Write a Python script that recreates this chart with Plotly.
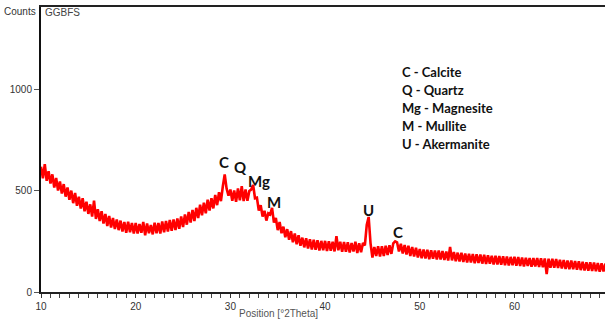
import numpy as np
import plotly.graph_objects as go

# 2theta positions (deg), step 0.2 from 10.0 to 69.6
two_theta = [round(10 + 0.2 * i, 1) for i in range(299)]

counts = [
    618, 560, 630, 548, 595, 535, 580, 515, 562, 500,
    545, 485, 532, 470, 515, 455, 500, 438, 488, 425,
    470, 412, 462, 398, 445, 385, 432, 372, 450, 360,
    408, 350, 398, 338, 385, 325, 375, 318, 365, 310,
    358, 305, 352, 298, 345, 292, 346, 295, 340, 288,
    340, 288, 335, 292, 345, 280, 338, 290, 330, 284,
    342, 290, 340, 288, 348, 294, 350, 298, 355, 302,
    358, 305, 362, 312, 372, 320, 382, 332, 395, 342,
    405, 350, 415, 365, 430, 378, 440, 388, 455, 402,
    462, 412, 478, 428, 492, 448, 520, 580, 510, 475,
    505, 450, 500, 445, 510, 452, 522, 448, 505, 450,
    498, 505, 528, 462, 465, 402, 428, 372, 400, 352,
    388, 382, 415, 342, 365, 305, 345, 290, 322, 270,
    310, 258, 300, 245, 288, 235, 280, 228, 268, 220,
    265, 215, 260, 210, 258, 208, 255, 205, 252, 206,
    252, 202, 250, 204, 248, 200, 275, 206, 248, 198,
    246, 198, 245, 195, 242, 200, 248, 192, 240, 196,
    242, 230, 330, 370, 240, 170, 222, 178, 225, 175,
    225, 178, 228, 182, 230, 188, 240, 250, 245, 200,
    238, 190, 232, 185, 228, 178, 222, 175, 218, 170,
    212, 166, 210, 165, 208, 162, 206, 164, 205, 160,
    204, 160, 202, 158, 200, 155, 222, 156, 197, 152,
    194, 150, 193, 148, 190, 146, 189, 145, 187, 142,
    186, 143, 185, 140, 183, 138, 181, 140, 179, 136,
    179, 136, 177, 134, 176, 132, 175, 131, 173, 132,
    174, 130, 172, 128, 170, 126, 169, 128, 167, 125,
    168, 126, 167, 124, 166, 122, 165, 88, 164, 120,
    164, 120, 162, 118, 159, 116, 157, 114, 155, 112,
    155, 112, 153, 110, 151, 108, 149, 106, 147, 105,
    146, 104, 145, 102, 143, 100, 141, 101, 140,
]

peak_labels = ["C", "Q", "Mg", "M", "U", "C"]
peak_x = [29.35, 31.1, 33.0, 34.6, 44.6, 47.7]
peak_y = [641, 616, 547, 444, 404, 296]

legend_lines = ["C - Calcite", "Q - Quartz", "Mg - Magnesite", "M - Mullite", "U - Akermanite"]

x_ticks = [10, 20, 30, 40, 50, 60]
y_ticks = [0, 500, 1000]

W, H = 605, 320
L, R, T, B = 41, 0, 7, 28
pw, ph = W - L - R, H - T - B

def px(xp):
    return (xp - L) / pw

def py(yp):
    return (H - B - yp) / ph

fig = go.Figure()
fig.add_trace(go.Scatter(x=two_theta, y=counts, mode="lines",
                         line=dict(color="#ff0000", width=2.6, simplify=False),
                         hoverinfo="skip"))

for lab, xv, yv in zip(peak_labels, peak_x, peak_y):
    fig.add_annotation(x=xv, y=yv, text="<b>%s</b>" % lab, showarrow=False,
                       font=dict(family="Lato", size=15, color="#111"),
                       xanchor="center", yanchor="middle")

for i, t in enumerate(legend_lines):
    fig.add_annotation(xref="paper", yref="paper", x=px(400), y=py(72 + 18 * i),
                       text="<b>%s</b>" % t, showarrow=False, xanchor="left", yanchor="middle",
                       font=dict(family="Lato", size=13, color="#111"))

fig.add_annotation(xref="paper", yref="paper", x=px(38), y=py(11), text="Counts",
                   showarrow=False, xanchor="right", yanchor="middle",
                   font=dict(family="Liberation Sans", size=10, color="#333"))
fig.add_annotation(xref="paper", yref="paper", x=px(43), y=py(13), text="GGBFS",
                   showarrow=False, xanchor="left", yanchor="middle",
                   font=dict(family="Liberation Sans", size=10, color="#444"))
fig.add_annotation(xref="paper", yref="paper", x=px(278), y=py(313), text="Position [°2Theta]",
                   showarrow=False, xanchor="center", yanchor="middle",
                   font=dict(family="Liberation Sans", size=10, color="#555"))

fig.update_layout(
    width=W, height=H, margin=dict(l=L, r=R, t=T, b=B),
    paper_bgcolor="white", plot_bgcolor="white", showlegend=False,
    xaxis=dict(range=[10, 69.56], tickvals=x_ticks, ticks="outside", ticklen=4,
               tickcolor="#333", showgrid=False, zeroline=False, showline=True,
               linecolor="#222", linewidth=1.5, mirror=True,
               tickfont=dict(family="Liberation Sans", size=10, color="#333"),
               minor=dict(dtick=1, ticks="outside", ticklen=4, tickcolor="#444")),
    yaxis=dict(range=[0, 1405], tickvals=y_ticks, ticks="outside", ticklen=5,
               tickcolor="#555", showgrid=False, zeroline=False, showline=True,
               linecolor="#111", linewidth=2,
               tickfont=dict(family="Liberation Sans", size=10, color="#333")),
)

fig.write_html("out.html")
